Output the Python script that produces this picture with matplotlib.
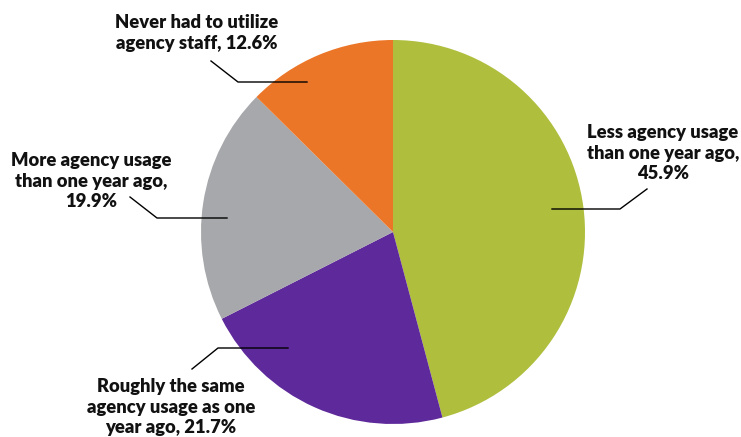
import matplotlib.pyplot as plt

# slice data, clockwise from 12 o'clock
labels = ['Less agency usage\nthan one year ago,\n45.9%',
          'Roughly the same\nagency usage as one\nyear ago, 21.7%',
          'More agency usage\nthan one year ago,\n19.9%',
          'Never had to utilize\nagency staff, 12.6%']
values = [45.9, 21.7, 19.9, 12.6]
colors = ['#AFBE3D', '#5E2A9B', '#A7A8AB', '#EC7627']

# label layout in pixel space (x, y from top): text centre, leader start, elbow, end
text_pos = [(663, 153), (171, 407), (91, 181), (197, 33)]
leaders = [
    [(552, 209), (620, 209), (647, 189)],
    [(288, 348), (218, 348), (192, 369)],
    [(227, 218), (157, 218), (130, 197)],
    [(307, 82), (238, 82), (211, 61)],
]

W, H = 741, 437
fig = plt.figure(figsize=(W / 100, H / 100), dpi=100)
ax = fig.add_axes([0, 0, 1, 1])

ax.pie(values, colors=colors, startangle=90, counterclock=False,
       center=(393, H - 232), radius=192,
       wedgeprops={'linewidth': 0})

for pts in leaders:
    xs = [p[0] for p in pts]
    ys = [H - p[1] for p in pts]
    ax.plot(xs, ys, color='black', linewidth=1)

for lab, (tx, ty) in zip(labels, text_pos):
    ax.text(tx, H - ty, lab, ha='center', va='center', fontsize=13.2,
            fontweight='heavy', family='Lato', linespacing=1.22, color='#111111')

ax.set_xlim(0, W)
ax.set_ylim(0, H)
ax.set_aspect('equal')
ax.axis('off')

fig.savefig('out.png', dpi=100)
